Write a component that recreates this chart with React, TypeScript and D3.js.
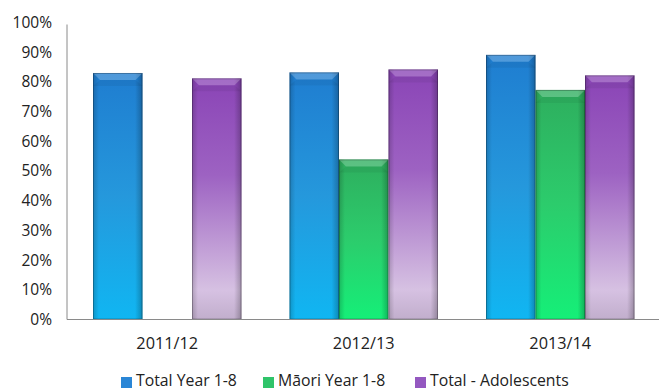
import React from "react";
import * as d3 from "d3";

const categories = ["2011/12", "2012/13", "2013/14"];
const seriesNames = ["Total Year 1-8", "Māori Year 1-8", "Total - Adolescents"];
const totalYear = [0.83, 0.832, 0.891];
const maoriYear = [null, 0.539, 0.773];
const adolescents = [0.812, 0.842, 0.822];
const yTicks = [0, 0.1, 0.2, 0.3, 0.4, 0.5, 0.6, 0.7, 0.8, 0.9, 1.0];

const seriesValues = [totalYear, maoriYear, adolescents];
const gradIds = ["gBlue", "gGreen", "gPurple"];
const legendColors = ["#2a86d6", "#2fc46a", "#9458c0"];

const W = 668, H = 391;
const axisLeft = 67, axisRight = 659;
const left = 69, right = 658.5, top = 22.5, bottom = 319.5;
const FONT = "'Open Sans', 'Liberation Sans', Arial, sans-serif";

export default function App() {
  const x0 = d3.scaleBand<string>().domain(categories).range([left, right]).padding(0);
  const x1 = d3
    .scaleBand<string>()
    .domain(seriesNames)
    .range([24, x0.bandwidth() - 24])
    .padding(0);
  const y = d3.scaleLinear().domain([0, 1]).range([bottom, top]);

  const bars: React.ReactNode[] = [];
  categories.forEach((c, ci) => {
    seriesNames.forEach((s, si) => {
      const v = seriesValues[si][ci];
      if (v == null) return;
      const bx = (x0(c) as number) + (x1(s) as number);
      const bw = x1.bandwidth();
      const by = y(v);
      const bh = y(0) - by;
      const bev = 7;
      bars.push(
        <g key={c + s}>
          <rect x={bx} y={by} width={bw} height={bh} fill={`url(#${gradIds[si]})`} />
          <rect x={bx} y={by} width={bw} height={bh} fill="url(#gSide)" />
          <polygon
            points={`${bx},${by} ${bx + bw},${by} ${bx + bw - bev},${by + bev} ${bx + bev},${by + bev}`}
            fill="#fff"
            opacity={0.22}
          />
          <polygon
            points={`${bx + bev},${by + bev} ${bx + bw - bev},${by + bev} ${bx + bw},${by + bev + 6} ${bx},${by + bev + 6}`}
            fill="#000"
            opacity={0.05}
          />
          <rect x={bx + 0.5} y={by + 0.5} width={bw - 1} height={bh - 1} fill="none" stroke="#000" strokeOpacity={0.25} />
        </g>
      );
    });
  });

  const legendX = [121, 263, 415];

  return (
    <svg width={W} height={H} style={{ position: "absolute", left: 0, top: 0, background: "#fff" }}>
      <defs>
        <linearGradient id="gBlue" x1="0" y1="0" x2="0" y2="1">
          <stop offset="0" stopColor="#1f7dd0" />
          <stop offset="0.5" stopColor="#2598dc" />
          <stop offset="1" stopColor="#10b6f2" />
        </linearGradient>
        <linearGradient id="gGreen" x1="0" y1="0" x2="0" y2="1">
          <stop offset="0" stopColor="#2eae5e" />
          <stop offset="0.5" stopColor="#2ccc6c" />
          <stop offset="1" stopColor="#15ef78" />
        </linearGradient>
        <linearGradient id="gPurple" x1="0" y1="0" x2="0" y2="1">
          <stop offset="0" stopColor="#8a44b6" />
          <stop offset="0.4" stopColor="#9d62c2" />
          <stop offset="0.88" stopColor="#d6c1e2" />
          <stop offset="1" stopColor="#c1aecc" />
        </linearGradient>
        <linearGradient id="gSide" x1="0" y1="0" x2="1" y2="0">
          <stop offset="0" stopColor="#000" stopOpacity={0.18} />
          <stop offset="0.12" stopColor="#000" stopOpacity={0} />
          <stop offset="0.85" stopColor="#000" stopOpacity={0} />
          <stop offset="1" stopColor="#000" stopOpacity={0.25} />
        </linearGradient>
      </defs>

      {yTicks.map((t) => (
        <text
          key={t}
          x={52}
          y={y(t)}
          dy="0.35em"
          textAnchor="end"
          fontFamily={FONT}
          fontSize={15.5}
          fill="#222"
        >
          {d3.format(".0%")(t)}
        </text>
      ))}

      {bars}

      <line x1={axisLeft} x2={axisLeft} y1={top + 2} y2={bottom} stroke="#8a8a8a" strokeWidth={1} />
      <line x1={axisLeft} x2={axisRight} y1={bottom} y2={bottom} stroke="#8a8a8a" strokeWidth={1} />

      {categories.map((c) => (
        <text
          key={c}
          x={(x0(c) as number) + x0.bandwidth() / 2}
          y={343.5}
          dy="0.35em"
          textAnchor="middle"
          fontFamily={FONT}
          fontSize={16.3}
          fill="#222"
        >
          {c}
        </text>
      ))}

      {seriesNames.map((s, i) => (
        <g key={s}>
          <rect x={legendX[i]} y={377} width={11} height={11} fill={legendColors[i]} />
          <text x={legendX[i] + 15} y={380.5} dy="0.35em" fontFamily={FONT} fontSize={15.8} fill="#222">
            {s}
          </text>
        </g>
      ))}
    </svg>
  );
}
